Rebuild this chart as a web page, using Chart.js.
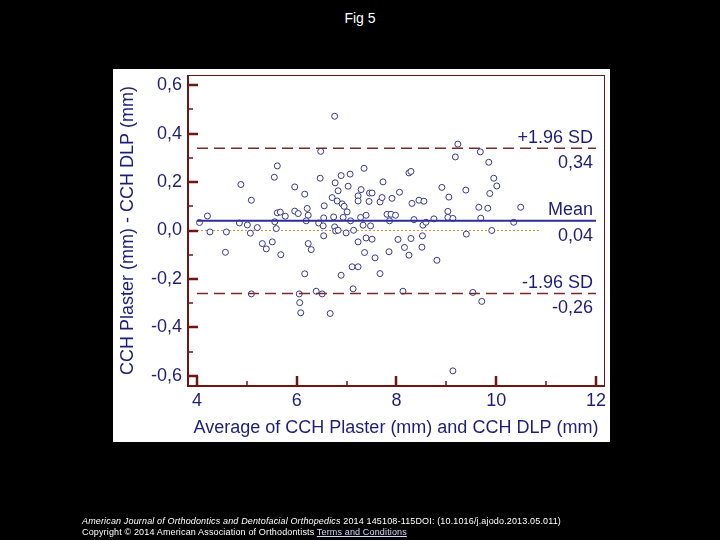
<!DOCTYPE html>
<html lang="en">
<head>
<meta charset="UTF-8">
<title>Fig 5</title>
<script src="https://cdn.jsdelivr.net/npm/chart.js"></script>
<style>
  body { margin: 0; width: 720px; height: 540px; background: #000; overflow: hidden; position: relative;
         font-family: "Liberation Sans", Arial, sans-serif; }
  #fig-title { position: absolute; top: 10px; left: 0; width: 720px; text-align: center; color: #fff; font-size: 14px; }
  #chart { position: absolute; left: 0; top: 0; }
  .footer { position: absolute; left: 82px; color: #fff; font-size: 9px; letter-spacing: 0.15px; line-height: 10px; white-space: nowrap; }
  .footer a { color: #d8d8ff; text-decoration: underline; }
</style>
</head>
<body>
<div id="fig-title">Fig 5</div>
<canvas id="chart" width="720" height="540"></canvas>
<div class="footer" style="top:516px"><i>American Journal of Orthodontics and Dentofacial Orthopedics</i> 2014 145108-115DOI: (10.1016/j.ajodo.2013.05.011)</div>
<div class="footer" style="top:527px">Copyright © 2014 American Association of Orthodontists <a>Terms and Conditions</a></div>

<script>
// average of the two methods (mm)
const avgValues = [
  4.05, 4.21, 4.26, 4.59, 4.57, 4.85, 4.88, 5.01, 5.07, 5.09, 5.21, 5.31, 5.39, 5.51, 5.55, 5.61,
  5.68, 5.61, 5.67, 5.77, 5.56, 5.59, 5.96, 6.03, 5.96, 6.16, 6.21, 6.23, 6.19, 6.23, 6.29, 6.47,
  6.48, 6.76, 6.55, 6.44, 6.53, 6.54, 6.54, 6.71, 6.74, 6.76, 6.78, 6.83, 6.77, 6.83, 6.89, 6.81,
  6.91, 6.95, 6.93, 6.99, 7.01, 7.03, 7.07, 7.08, 7.14, 7.11, 7.23, 7.13, 7.23, 7.23, 7.23, 7.29,
  7.35, 7.28, 7.33, 7.39, 7.39, 7.36, 7.45, 7.46, 7.51, 7.48, 7.51, 7.57, 7.67, 7.67, 7.71, 7.73,
  7.81, 7.86, 7.89, 7.85, 7.91, 7.98, 8.03, 8.06, 8.13, 8.16, 8.25, 8.29, 8.25, 8.29, 8.31, 8.35,
  8.45, 8.51, 8.52, 8.53, 8.55, 8.59, 8.75, 8.81, 8.91, 9.03, 9.03, 9.05, 9.13, 9.13, 9.18, 9.23,
  9.39, 9.40, 9.53, 9.65, 9.68, 9.69, 9.71, 9.83, 9.85, 9.87, 9.91, 9.95, 10.01, 10.35, 10.49,
  6.16, 6.89, 6.05, 6.06, 6.08, 6.39, 6.51, 6.67, 5.09
];
// difference plaster - DLP (mm)
const diffValues = [
  0.033, 0.060, -0.006, -0.006, -0.090, 0.031, 0.190, 0.023, -0.011, 0.125, 0.012, -0.054, -0.076, -0.047, 0.220, 0.267,
  -0.100, 0.073, 0.076, 0.059, 0.036, 0.008, 0.080, 0.070, 0.180, 0.150, 0.091, 0.063, 0.040, -0.054, -0.079, 0.216,
  0.327, 0.472, 0.102, 0.031, 0.019, -0.022, 0.052, 0.136, 0.056, 0.015, -0.002, 0.001, 0.197, 0.164, 0.227, 0.122,
  0.110, 0.100, 0.054, -0.010, 0.077, 0.183, 0.233, 0.040, 0.001, -0.150, -0.150, -0.241, -0.047, 0.143, 0.122, 0.169,
  0.257, 0.054, 0.022, 0.063, -0.031, -0.091, 0.120, 0.155, 0.155, 0.019, -0.036, -0.113, -0.178, 0.118, 0.136, 0.201,
  0.067, 0.040, 0.067, -0.088, 0.133, 0.063, -0.037, 0.158, -0.251, -0.070, 0.238, 0.244, -0.102, -0.033, 0.112, 0.045,
  0.125, -0.069, -0.022, 0.022, 0.121, 0.034, 0.048, -0.123, 0.178, 0.079, 0.054, 0.138, 0.050, -0.580, 0.304, 0.357,
  0.167, -0.015, -0.256, 0.096, 0.325, 0.051, -0.293, 0.092, 0.282, 0.153, 0.000, 0.216, 0.184, 0.034, 0.096,
  -0.179, -0.185, -0.262, -0.298, -0.340, -0.251, -0.262, -0.343, -0.262
];

const limitNames = ['+1.96 SD', 'Mean', '-1.96 SD'];
const limitValues = [0.34, 0.04, -0.26];
const lineStart = 4;
const lineEnd = 12;
const zeroLineEnd = 10.9;

const xTickValues = [4, 6, 8, 10, 12];
const xMinorTicks = [5, 7, 9, 11];
const yTickValues = [-0.6, -0.4, -0.2, 0, 0.2, 0.4, 0.6];
const yMinorTicks = [-0.5, -0.3, -0.1, 0.1, 0.3, 0.5];

const xTitle = 'Average of CCH Plaster (mm) and CCH DLP (mm)';
const yTitle = 'CCH Plaster (mm) - CCH DLP (mm)';

const navy = '#1e1e78';
const darkRed = '#701414';
const fontFamily = '"Liberation Sans", Arial, sans-serif';

function comma(v, d) {
  return v.toFixed(d).replace('.', ',');
}

// white panel behind the plot
const panelPlugin = {
  id: 'panel',
  beforeDraw(chart) {
    const ctx = chart.ctx;
    const a = chart.chartArea;
    const left = chart.scales.y.left;
    const bottom = chart.scales.x.bottom;
    ctx.save();
    ctx.fillStyle = '#ffffff';
    ctx.fillRect(left, a.top - 6, a.right + 6 - left, bottom - a.top + 6);
    ctx.restore();
  }
};

// frame, inward ticks and limit labels
const framePlugin = {
  id: 'frame',
  afterDatasetsDraw(chart) {
    const ctx = chart.ctx;
    const a = chart.chartArea;
    const xs = chart.scales.x;
    const ys = chart.scales.y;
    ctx.save();
    ctx.strokeStyle = darkRed;
    ctx.lineWidth = 1;
    ctx.strokeRect(a.left + 0.5, a.top + 0.5, a.right - a.left, a.bottom - a.top);
    ctx.lineWidth = 2;
    ctx.beginPath();
    ctx.moveTo(a.left, a.top);
    ctx.lineTo(a.left, a.bottom);
    ctx.lineTo(a.right + 1, a.bottom);
    ctx.stroke();

    ctx.lineWidth = 2.5;
    ctx.beginPath();
    yTickValues.forEach(v => {
      const y = Math.round(ys.getPixelForValue(v));
      ctx.moveTo(a.left, y); ctx.lineTo(a.left + 10, y);
    });
    xTickValues.forEach(v => {
      const x = Math.round(xs.getPixelForValue(v));
      ctx.moveTo(x, a.bottom); ctx.lineTo(x, a.bottom - 10);
    });
    ctx.stroke();
    ctx.lineWidth = 1.5;
    ctx.beginPath();
    yMinorTicks.forEach(v => {
      const y = Math.round(ys.getPixelForValue(v));
      ctx.moveTo(a.left, y); ctx.lineTo(a.left + 5, y);
    });
    xMinorTicks.forEach(v => {
      const x = Math.round(xs.getPixelForValue(v));
      ctx.moveTo(x, a.bottom); ctx.lineTo(x, a.bottom - 5);
    });
    ctx.stroke();

    ctx.fillStyle = navy;
    ctx.font = '18px ' + fontFamily;
    ctx.textAlign = 'right';
    ctx.textBaseline = 'alphabetic';
    const tx = xs.getPixelForValue(lineEnd) - 3;
    limitValues.forEach((v, i) => {
      const y = ys.getPixelForValue(v);
      ctx.fillText(limitNames[i], tx, y - 5.5);
      ctx.fillText(comma(v, 2), tx, y + 20);
    });
    ctx.restore();
  }
};

const ctx = document.getElementById('chart').getContext('2d');
new Chart(ctx, {
  type: 'scatter',
  data: {
    datasets: [
      {
        label: 'Differences',
        data: avgValues.map((x, i) => ({ x: x, y: diffValues[i] })),
        pointRadius: 3,
        pointBorderWidth: 1,
        pointBackgroundColor: '#ffffff',
        pointBorderColor: '#3a3a8c',
        order: 2
      },
      {
        label: 'Zero',
        data: [{ x: lineStart, y: 0 }, { x: zeroLineEnd, y: 0 }],
        showLine: true, pointRadius: 0,
        borderColor: '#e39030', borderWidth: 1, borderDash: [2, 2],
        order: 3
      },
      {
        label: 'Mean',
        data: [{ x: lineStart, y: limitValues[1] }, { x: lineEnd, y: limitValues[1] }],
        showLine: true, pointRadius: 0,
        borderColor: '#2d2d9a', borderWidth: 2,
        order: 1
      },
      {
        label: '+1.96 SD',
        data: [{ x: lineStart, y: limitValues[0] }, { x: lineEnd, y: limitValues[0] }],
        showLine: true, pointRadius: 0,
        borderColor: '#7a2a2a', borderWidth: 1.5, borderDash: [11, 6],
        order: 1
      },
      {
        label: '-1.96 SD',
        data: [{ x: lineStart, y: limitValues[2] }, { x: lineEnd, y: limitValues[2] }],
        showLine: true, pointRadius: 0,
        borderColor: '#7a2a2a', borderWidth: 1.5, borderDash: [11, 6],
        order: 1
      }
    ]
  },
  options: {
    responsive: false,
    animation: false,
    layout: { padding: { left: 113, right: 116, top: 75, bottom: 98 } },
    plugins: {
      legend: { display: false },
      tooltip: { enabled: false }
    },
    scales: {
      x: {
        type: 'linear',
        min: 3.82,
        max: 12.16,
        afterFit(scale) { scale.height = 56; },
        afterBuildTicks(scale) { scale.ticks = xTickValues.map(v => ({ value: v })); },
        grid: { display: false, drawTicks: false },
        border: { display: false },
        ticks: {
          color: navy, padding: 4, maxRotation: 0, autoSkip: false,
          font: { size: 18, family: fontFamily },
          callback: v => String(v)
        },
        title: {
          display: true, text: xTitle, color: navy,
          font: { size: 18, family: fontFamily },
          padding: { top: 0, bottom: 3 }
        }
      },
      y: {
        type: 'linear',
        min: -0.6425,
        max: 0.6425,
        afterFit(scale) { scale.width = 75; },
        afterBuildTicks(scale) { scale.ticks = yTickValues.map(v => ({ value: v })); },
        grid: { display: false, drawTicks: false },
        border: { display: false },
        ticks: {
          color: navy, padding: 6, autoSkip: false,
          font: { size: 18, family: fontFamily },
          callback: v => comma(v, 1)
        },
        title: {
          display: true, text: yTitle, color: navy,
          font: { size: 18, family: fontFamily },
          padding: { top: 4, bottom: 0 }
        }
      }
    }
  },
  plugins: [panelPlugin, framePlugin]
});
</script>
</body>
</html>
